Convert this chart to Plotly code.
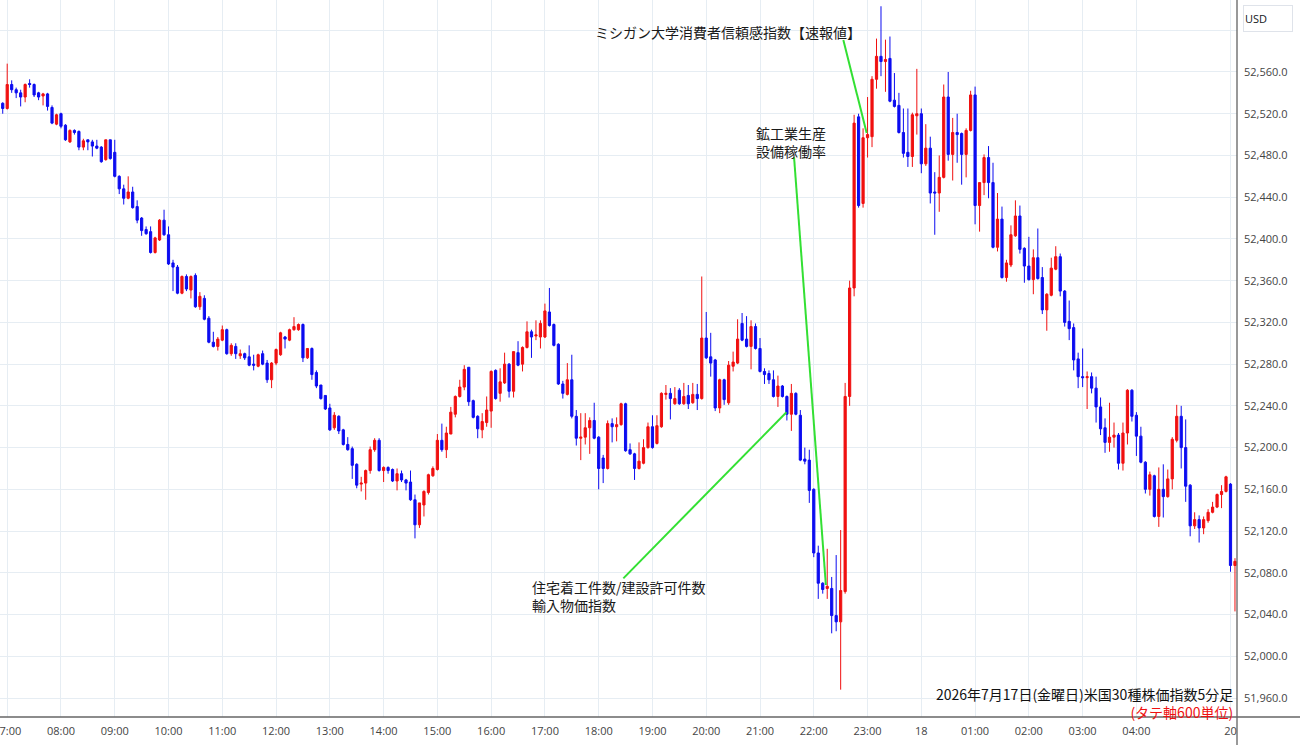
import plotly.graph_objects as go

# 5-minute candles, US 30 index, 2026-07-17 (JST), first candle 06:55
opens = [
    52530,
    52525, 52548, 52543, 52540, 52536, 52549, 52548, 52540, 52537, 52539, 52526, 52510,
    52520, 52509, 52493, 52504, 52503, 52488, 52495, 52493, 52489, 52488, 52476, 52495,
    52483, 52460, 52448, 52439, 52445, 52431, 52420, 52409, 52407, 52387, 52399, 52418,
    52404, 52377, 52373, 52348, 52364, 52351, 52365, 52335, 52343, 52324, 52301, 52297,
    52303, 52313, 52290, 52297, 52288, 52290, 52287, 52280, 52278, 52290, 52281, 52265,
    52281, 52289, 52306, 52303, 52313, 52313, 52318, 52286, 52295, 52272, 52260, 52250,
    52238, 52219, 52230, 52217, 52203, 52199, 52184, 52165, 52166, 52178, 52198, 52207,
    52178, 52181, 52179, 52168, 52175, 52169, 52167, 52150, 52126, 52145, 52157, 52173,
    52179, 52207, 52198, 52213, 52232, 52249, 52258, 52277, 52245, 52230, 52217, 52224,
    52235, 52274, 52252, 52262, 52280, 52254, 52291, 52280, 52296, 52311, 52307, 52306,
    52306, 52330, 52318, 52299, 52261, 52251, 52265, 52230, 52209, 52210, 52219, 52226,
    52210, 52190, 52180, 52223, 52220, 52222, 52242, 52198, 52194, 52180, 52185, 52200,
    52220, 52204, 52220, 52251, 52252, 52242, 52255, 52242, 52250, 52243, 52251, 52247,
    52305, 52287, 52284, 52238, 52265, 52243, 52278, 52281, 52319, 52304, 52297, 52316,
    52295, 52273, 52271, 52265, 52249, 52259, 52249, 52232, 52252, 52231, 52189, 52188,
    52160, 52099, 52070, 52065, 52065, 52039, 52033, 52062, 52249, 52353, 52517, 52434,
    52497, 52498, 52553, 52575, 52570, 52573, 52533, 52528, 52502, 52483, 52479, 52518,
    52520, 52472, 52487, 52445, 52444, 52459, 52536, 52481, 52502, 52501, 52481, 52504,
    52538, 52432, 52454, 52478, 52454, 52392, 52419, 52363, 52375, 52403, 52422, 52391,
    52374, 52361, 52382, 52363, 52332, 52346, 52371, 52383, 52350, 52321, 52315, 52285,
    52268, 52267, 52268, 52257, 52239, 52219, 52205, 52210, 52212, 52185, 52214, 52255,
    52231, 52211, 52186, 52160, 52173, 52134, 52160, 52153, 52170, 52207, 52230, 52200,
    52164, 52125, 52131, 52123, 52130, 52138, 52143, 52155, 52158, 52165, 52087,
]
highs = [
    52531,
    52568, 52552, 52545, 52543, 52549, 52553, 52549, 52541, 52540, 52540, 52528, 52520,
    52521, 52510, 52505, 52505, 52504, 52496, 52495, 52495, 52495, 52489, 52495, 52495,
    52495, 52461, 52452, 52460, 52450, 52437, 52421, 52412, 52412, 52402, 52419, 52428,
    52412, 52380, 52375, 52365, 52366, 52365, 52367, 52349, 52346, 52326, 52311, 52306,
    52317, 52314, 52300, 52300, 52294, 52291, 52298, 52289, 52290, 52293, 52284, 52282,
    52295, 52311, 52307, 52314, 52325, 52319, 52319, 52295, 52296, 52274, 52260, 52250,
    52242, 52234, 52231, 52218, 52210, 52201, 52185, 52172, 52179, 52201, 52209, 52209,
    52182, 52182, 52180, 52180, 52178, 52170, 52178, 52155, 52147, 52159, 52175, 52182,
    52213, 52223, 52220, 52239, 52250, 52265, 52279, 52277, 52246, 52231, 52233, 52249,
    52274, 52275, 52276, 52291, 52281, 52292, 52302, 52297, 52321, 52313, 52322, 52322,
    52338, 52353, 52319, 52300, 52264, 52281, 52289, 52236, 52233, 52233, 52229, 52243,
    52211, 52193, 52226, 52228, 52229, 52243, 52243, 52204, 52195, 52205, 52208, 52224,
    52231, 52231, 52253, 52260, 52257, 52258, 52257, 52262, 52260, 52262, 52261, 52364,
    52330, 52310, 52285, 52266, 52266, 52283, 52292, 52323, 52329, 52326, 52322, 52319,
    52305, 52276, 52274, 52274, 52269, 52260, 52250, 52261, 52253, 52236, 52200, 52198,
    52161, 52106, 52071, 52103, 52076, 52097, 52121, 52262, 52360, 52519, 52520, 52506,
    52536, 52556, 52592, 52623, 52591, 52594, 52559, 52540, 52525, 52525, 52521, 52563,
    52525, 52510, 52498, 52464, 52480, 52548, 52560, 52516, 52520, 52502, 52506, 52542,
    52546, 52454, 52481, 52489, 52473, 52444, 52431, 52380, 52413, 52437, 52432, 52392,
    52402, 52390, 52410, 52373, 52348, 52382, 52393, 52386, 52351, 52341, 52319, 52291,
    52295, 52273, 52272, 52268, 52248, 52228, 52243, 52224, 52214, 52224, 52256, 52256,
    52234, 52220, 52187, 52177, 52174, 52181, 52184, 52179, 52210, 52241, 52240, 52227,
    52165, 52138, 52135, 52134, 52141, 52148, 52156, 52164, 52173, 52166, 52094,
]
lows = [
    52520,
    52524, 52540, 52535, 52527, 52531, 52545, 52536, 52533, 52528, 52523, 52510, 52509,
    52506, 52494, 52492, 52500, 52485, 52485, 52485, 52479, 52486, 52473, 52475, 52476,
    52459, 52443, 52433, 52438, 52429, 52415, 52403, 52404, 52386, 52386, 52398, 52403,
    52375, 52350, 52347, 52347, 52350, 52343, 52334, 52332, 52322, 52300, 52296, 52293,
    52302, 52289, 52288, 52285, 52285, 52284, 52278, 52274, 52277, 52279, 52262, 52257,
    52279, 52288, 52295, 52302, 52312, 52312, 52282, 52285, 52265, 52257, 52246, 52236,
    52216, 52217, 52213, 52202, 52197, 52170, 52161, 52158, 52150, 52175, 52196, 52177,
    52167, 52175, 52167, 52159, 52167, 52159, 52149, 52113, 52123, 52134, 52155, 52172,
    52178, 52196, 52190, 52213, 52229, 52248, 52255, 52240, 52228, 52209, 52209, 52220,
    52219, 52246, 52244, 52261, 52248, 52248, 52278, 52273, 52295, 52286, 52303, 52295,
    52305, 52316, 52297, 52260, 52247, 52250, 52228, 52202, 52188, 52203, 52194, 52208,
    52160, 52166, 52179, 52205, 52206, 52221, 52196, 52193, 52169, 52179, 52184, 52199,
    52199, 52203, 52219, 52246, 52227, 52241, 52241, 52241, 52237, 52242, 52236, 52246,
    52285, 52268, 52235, 52233, 52241, 52241, 52273, 52280, 52302, 52296, 52275, 52294,
    52272, 52261, 52261, 52248, 52239, 52248, 52226, 52216, 52231, 52187, 52184, 52147,
    52095, 52055, 52060, 52055, 52022, 52024, 51968, 52060, 52240, 52345, 52430, 52430,
    52478, 52488, 52544, 52556, 52541, 52531, 52526, 52501, 52478, 52469, 52469, 52500,
    52463, 52470, 52434, 52404, 52426, 52458, 52475, 52456, 52473, 52452, 52459, 52503,
    52414, 52407, 52442, 52439, 52391, 52388, 52362, 52359, 52373, 52402, 52386, 52358,
    52360, 52347, 52361, 52328, 52312, 52345, 52370, 52345, 52316, 52303, 52274, 52257,
    52258, 52237, 52252, 52224, 52212, 52195, 52196, 52200, 52179, 52178, 52203, 52225,
    52192, 52185, 52156, 52154, 52133, 52124, 52133, 52152, 52160, 52205, 52180, 52148,
    52115, 52122, 52109, 52117, 52128, 52137, 52142, 52142, 52157, 52081, 52043,
]
closes = [
    52525,
    52548, 52543, 52540, 52536, 52548, 52548, 52538, 52536, 52539, 52527, 52511, 52519,
    52508, 52495, 52504, 52502, 52488, 52494, 52493, 52489, 52487, 52474, 52495, 52477,
    52460, 52448, 52439, 52445, 52430, 52418, 52408, 52405, 52387, 52401, 52418, 52404,
    52376, 52373, 52348, 52364, 52352, 52364, 52335, 52345, 52323, 52301, 52297, 52304,
    52313, 52290, 52298, 52290, 52290, 52286, 52279, 52279, 52289, 52280, 52265, 52281,
    52294, 52310, 52304, 52313, 52316, 52318, 52286, 52295, 52270, 52259, 52247, 52237,
    52217, 52231, 52216, 52203, 52198, 52183, 52164, 52166, 52178, 52198, 52207, 52178,
    52181, 52178, 52168, 52175, 52169, 52166, 52150, 52126, 52147, 52158, 52174, 52180,
    52207, 52198, 52214, 52234, 52249, 52258, 52275, 52244, 52229, 52218, 52225, 52236,
    52273, 52247, 52263, 52280, 52254, 52292, 52279, 52296, 52311, 52306, 52308, 52319,
    52331, 52317, 52298, 52261, 52252, 52265, 52230, 52209, 52210, 52219, 52226, 52209,
    52180, 52180, 52223, 52220, 52222, 52242, 52197, 52194, 52180, 52187, 52200, 52220,
    52200, 52221, 52252, 52252, 52247, 52247, 52242, 52249, 52242, 52251, 52247, 52305,
    52286, 52281, 52238, 52265, 52246, 52279, 52282, 52304, 52303, 52297, 52316, 52295,
    52273, 52270, 52265, 52249, 52259, 52249, 52232, 52252, 52232, 52188, 52187, 52159,
    52099, 52070, 52064, 52067, 52039, 52033, 52063, 52249, 52353, 52511, 52432, 52497,
    52500, 52553, 52575, 52570, 52572, 52532, 52527, 52502, 52482, 52479, 52519, 52520,
    52472, 52487, 52444, 52444, 52459, 52536, 52481, 52502, 52500, 52481, 52504, 52538,
    52432, 52454, 52478, 52454, 52392, 52419, 52363, 52377, 52404, 52422, 52390, 52374,
    52361, 52382, 52362, 52332, 52347, 52372, 52383, 52350, 52320, 52314, 52284, 52268,
    52267, 52268, 52257, 52239, 52218, 52205, 52210, 52212, 52185, 52214, 52255, 52230,
    52211, 52186, 52160, 52174, 52134, 52160, 52153, 52170, 52208, 52230, 52200, 52163,
    52125, 52131, 52123, 52131, 52138, 52143, 52155, 52158, 52172, 52087, 52091,
]

# time axis: one slot per 5-minute candle, slot 0 = 07:00
first_slot = -1
slots = list(range(first_slot, first_slot + len(opens)))
slots_per_hour = 12
hour_labels = ["07:00", "08:00", "09:00", "10:00", "11:00", "12:00", "13:00", "14:00",
               "15:00", "16:00", "17:00", "18:00", "19:00", "20:00", "21:00", "22:00",
               "23:00", "18", "01:00", "02:00", "03:00", "04:00"]
monday_label = "20"
monday_slot = 273
tick_slots = [k * slots_per_hour for k in range(len(hour_labels))] + [monday_slot]
tick_texts = hour_labels + [monday_label]

price_ticks = list(range(51960, 52601, 40))
hidden_price_label = 52600  # covered by the currency badge in the original
price_tick_texts = ["" if v == hidden_price_label else f"{v:,.1f}" for v in price_ticks]

title_text = "2026年7月17日(金曜日)米国30種株価指数5分足"
scale_note = "(タテ軸600単位)"
events = {
    "michigan": "ミシガン大学消費者信頼感指数【速報値】",
    "indpro": ["鉱工業生産", "設備稼働率"],
    "housing": ["住宅着工件数/建設許可件数", "輸入物価指数"],
}

RED = "#f01010"
BLUE = "#0c0cf0"
GREEN = "#33e033"
GRID = "#e6edf3"
CJK = "Noto Sans CJK JP"

fig = go.Figure()
fig.add_trace(go.Candlestick(
    x=slots, open=opens, high=highs, low=lows, close=closes,
    increasing=dict(line=dict(color=RED, width=1), fillcolor=RED),
    decreasing=dict(line=dict(color=BLUE, width=1), fillcolor=BLUE),
    whiskerwidth=0, showlegend=False, hoverinfo="skip",
))

# event callout lines
fig.add_shape(type="line", xref="x", yref="y", x0=186.6, y0=52590.7, x1=191.8, y1=52501.5,
              line=dict(color=GREEN, width=2))
fig.add_shape(type="line", xref="x", yref="y", x0=175.6, y0=52478.3, x1=182.7, y1=52068.3,
              line=dict(color=GREEN, width=2))
fig.add_shape(type="line", xref="x", yref="y", x0=137.5, y0=52074.7, x1=173.9, y1=52233.9,
              line=dict(color=GREEN, width=2))

# frame lines (price axis separator and time axis line)
fig.add_shape(type="line", xref="paper", yref="paper", x0=1.0, x1=1.0, y0=-0.05, y1=1.0,
              line=dict(color="#555555", width=1.2), layer="above")
fig.add_shape(type="line", xref="paper", yref="paper", x0=0, x1=1.06, y0=0, y1=0,
              line=dict(color="#666666", width=1.5), layer="above")

TXT = "#1a1a1a"
ann = []
ann.append(dict(x=191.0, y=52598, xref="x", yref="y", text=events["michigan"], showarrow=False,
                xanchor="right", yanchor="middle", font=dict(family=CJK, size=14, color=TXT)))
ann.append(dict(x=175.0, y=52493.1, xref="x", yref="y", text="<br>".join(events["indpro"]),
                showarrow=False, align="center", xanchor="center", yanchor="middle",
                font=dict(family=CJK, size=14, color=TXT)))
ann.append(dict(x=116.6, y=52058.2, xref="x", yref="y", text="<br>".join(events["housing"]),
                showarrow=False, align="left", xanchor="left", yanchor="middle",
                font=dict(family=CJK, size=14, color=TXT)))
ann.append(dict(x=273.9, y=51955.5, xref="x", yref="y",
                text=title_text + "<br><span style='color:#ee1111'>" + scale_note + "</span>",
                showarrow=False, align="right", xanchor="right", yanchor="middle",
                font=dict(family=CJK, size=14, color="#111111")))
ann.append(dict(x=1.0048, y=0.993, xref="paper", yref="paper", text="USD", showarrow=False,
                xanchor="left", yanchor="top", align="left", width=46, height=23,
                bgcolor="white", bordercolor="#dfe3ea", borderwidth=1, borderpad=1,
                font=dict(family="Open Sans", size=11, color="#131722")))

fig.update_layout(
    width=1300, height=745,
    margin=dict(l=0, r=63, t=0, b=28, autoexpand=False),
    paper_bgcolor="white", plot_bgcolor="white",
    annotations=ann,
    xaxis=dict(
        range=[-1.61, 274.45], tickmode="array", tickvals=tick_slots, ticktext=tick_texts,
        showgrid=True, gridcolor=GRID, gridwidth=1, zeroline=False, showline=False,
        automargin=False, ticks="", ticklabelstandoff=6, ticklabeloverflow="allow",
        rangeslider=dict(visible=False),
        tickfont=dict(family="Open Sans", size=11, color="#444444"),
    ),
    yaxis=dict(
        side="right", range=[51941.8, 52629], tickmode="array", tickvals=price_ticks,
        ticktext=price_tick_texts, showgrid=True, gridcolor=GRID, gridwidth=1, zeroline=False,
        showline=False, automargin=False, ticks="", ticklabelstandoff=6,
        tickfont=dict(family="Open Sans", size=11, color="#444444"),
    ),
)

fig.write_html("out.html")
